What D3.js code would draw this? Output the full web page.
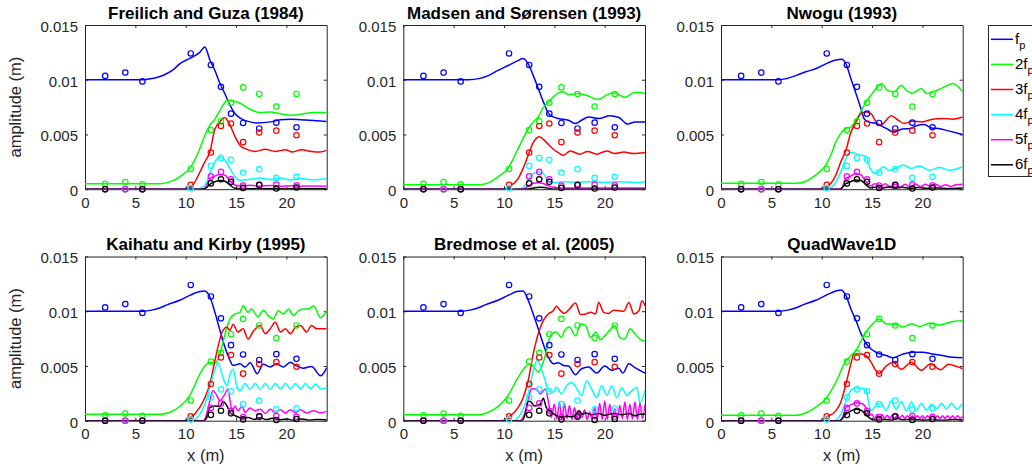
<!DOCTYPE html>
<html>
<head>
<meta charset="utf-8">
<script src="https://cdn.jsdelivr.net/npm/d3@7"></script>
<style>
  body { margin: 0; background: #fff; }
  svg { display: block; font-family: "Liberation Sans", Arial, Helvetica, sans-serif; }
  .axis path, .axis line { stroke: #262626; }
  .axis text { fill: #262626; font-size: 15px; font-family: "Liberation Sans", Arial, sans-serif; }
</style>
</head>
<body>
<svg id="fig" width="1032" height="471"></svg>
<script>
// amplitudes are in mm, x in m

// measured harmonic amplitudes at the gauges
const gaugeX = [2, 4, 5.7, 10.5, 12.5, 13.5, 14.5, 15.7, 17.3, 19, 21];
const meas1 = [10.35, 10.65, 9.85, 12.4, 11.35, 9.35, 6.9, 6.05, 5.55, 6.08, 5.65];
const meas2 = [0.5, 0.65, 0.45, 1.85, 5.4, 6.2, 7.9, 9.3, 8.7, 7.55, 8.7];
const meas3 = [0, 0, 0, 0.4, 3.35, 5.78, 6.0, 4.3, 5.17, 5.35, 4.93];
const meas4 = [0, 0, 0, 0.1, 2.13, 2.86, 2.68, 1.52, 1.83, 1.03, 1.13];
const meas5 = [0, 0, 0, null, 1.17, 1.58, 0.9, 0.33, 0.43, 0.43, 0.36];
const meas6 = [0, null, 0, null, 0.53, 0.91, 0.67, 0.12, 0.37, 0.06, 0.15];

// Freilich and Guza (1984)
const fg1 = [[0,10],[5.7,10],[6.5,10.08],[7.3,10.25],[8.1,10.55],[8.8,10.95],[9.4,11.45],[10.4,11.95],[11.4,12.5],[11.9,13.0],[12.4,11.8],[12.9,10.85],[13.4,9.65],[13.9,8.7],[14.4,7.67],[14.9,6.9],[15.4,6.5],[16.4,6.15],[17.1,6.05],[18.4,6.15],[19.4,6.35],[20.4,6.4],[21.4,6.35],[22.7,6.27],[24,6.18]];
const fg2 = [[0,0.5],[7.5,0.5],[8.1,0.6],[8.8,0.8],[9.4,1.13],[10.4,1.9],[10.9,2.65],[11.4,3.7],[11.9,4.9],[12.4,5.85],[12.9,6.4],[13.4,7.2],[13.9,7.95],[14.1,8.15],[14.7,8.05],[15.4,7.85],[16.4,7.3],[17.4,7.0],[18.4,7.05],[19.4,6.9],[20.4,6.75],[21.4,6.85],[22.7,7.0],[24,7.0]];
const fg3 = [[0,0],[9.5,0],[10.4,0.18],[10.9,0.65],[11.4,1.55],[11.9,2.5],[12.4,3.4],[12.9,5.5],[13.4,6.15],[13.85,6.55],[14.4,5.85],[14.9,4.8],[15.4,4.0],[15.9,3.7],[16.9,3.45],[17.9,3.65],[18.9,3.45],[19.9,3.6],[20.6,3.4],[21.5,3.6],[22.5,3.45],[23.3,3.4],[24,3.55]];
const fg4 = [[0,0],[11.0,0],[11.4,0.06],[11.9,0.37],[12.4,1.43],[12.9,2.5],[13.4,2.95],[13.9,2.65],[14.4,1.9],[14.9,1.13],[15.4,0.82],[16.4,0.9],[17.4,1.03],[18.4,0.88],[19.4,1.03],[20.4,0.85],[21.4,0.97],[22.7,0.85],[24,0.97]];
const fg5 = [[0,0],[11.5,0],[11.9,0.1],[12.4,0.95],[12.9,1.2],[13.4,1.35],[13.9,1.28],[14.4,0.75],[14.9,0.38],[15.4,0.3],[16.4,0.35],[17.4,0.28],[18.4,0.33],[19.4,0.28],[20.4,0.32],[21.4,0.27],[22.7,0.3],[24,0.28]];
const fg6 = [[0,0],[11.6,0],[12.0,0.1],[12.4,0.45],[12.9,0.67],[13.4,0.8],[13.9,0.73],[14.4,0.38],[14.9,0.08],[15.4,0.05],[24,0.05]];

// Madsen and Sorensen (1993)
const ms1 = [[0,10],[6.5,10],[7.5,10.1],[8.5,10.4],[9.4,10.85],[10.4,11.3],[11.4,11.75],[11.9,11.95],[12.4,11.45],[12.9,10.4],[13.4,9.2],[13.9,8.0],[14.4,6.95],[14.9,6.6],[15.4,6.45],[16.4,6.3],[17.1,6.0],[17.7,6.3],[18.4,6.6],[19.4,6.45],[20.5,6.7],[21.4,6.55],[22.3,5.95],[23.0,6.15],[24,6.15]];
const ms2 = [[0,0.4],[7.5,0.4],[8.5,0.6],[9.4,1.13],[10.4,1.9],[11.4,3.7],[12.4,5.5],[12.9,6.15],[13.4,6.6],[13.9,7.45],[14.4,7.95],[14.9,8.45],[15.4,8.8],[15.9,8.9],[16.4,8.65],[17.4,8.75],[18.4,8.5],[19.3,8.2],[20.4,8.7],[21.0,8.8],[22.0,8.4],[23.0,8.85],[24,8.75]];
const ms3 = [[0,0],[10.0,0],[10.4,0.18],[11.4,0.97],[11.9,1.9],[12.4,3.1],[12.9,4.25],[13.5,4.8],[13.9,4.55],[14.4,4.1],[14.9,3.65],[15.4,3.35],[15.9,3.1],[16.6,3.5],[17.5,3.2],[18.3,3.45],[19.2,3.2],[20.2,3.5],[21.0,3.25],[21.9,3.4],[22.8,3.25],[24,3.35]];
const ms4 = [[0,0],[11.4,0],[11.9,0.15],[12.4,0.82],[12.9,1.43],[13.4,1.58],[13.9,1.43],[14.4,0.75],[14.9,0.6],[16,0.68],[17.2,0.62],[18.5,0.68],[20,0.62],[21.5,0.68],[23,0.62],[24,0.66]];
const ms5 = [[0,0],[11.9,0],[12.4,0.3],[12.9,0.55],[13.4,0.6],[13.9,0.52],[14.4,0.3],[14.9,0.18],[15.5,0.12],[24,0.12]];
const ms6 = [[0,0],[12.2,0],[12.9,0.1],[13.5,0.18],[14.0,0.15],[14.6,0.05],[15.2,0],[24,0]];

// Nwogu (1993)
const nw1 = [[0,10],[5.7,10],[6.5,10.1],[7.5,10.4],[8.5,10.75],[9.4,11.0],[10.4,11.45],[11.4,11.8],[12.0,11.87],[12.4,11.45],[12.9,10.1],[13.4,8.75],[13.9,7.35],[14.2,6.45],[14.6,6.15],[15.4,6.0],[16.4,5.55],[17.2,5.2],[18.0,5.5],[18.8,5.55],[19.4,5.8],[20.2,5.9],[20.9,5.6],[21.6,5.55],[22.5,5.35],[24,5.0]];
const nw2 = [[0,0.55],[7.5,0.55],[8.5,0.75],[9.4,1.28],[10.4,2.2],[10.9,3.1],[11.4,4.3],[11.9,5.1],[12.4,5.55],[12.9,5.7],[13.4,6.3],[13.9,7.1],[14.4,7.95],[14.9,8.6],[15.4,9.2],[15.95,9.65],[16.5,9.05],[17.2,8.9],[17.9,9.5],[18.4,9.05],[19.0,8.75],[19.9,9.2],[20.4,8.75],[21.2,8.95],[22.2,9.35],[23.0,9.65],[24,8.9]];
const nw3 = [[0,0],[9.8,0],[10.4,0.24],[10.9,0.52],[11.4,1.28],[11.9,2.5],[12.4,3.55],[12.9,5.2],[13.4,6.15],[13.9,6.9],[14.4,7.05],[14.9,6.9],[15.4,6.15],[15.9,5.85],[16.4,6.3],[16.9,6.7],[17.6,6.3],[18.2,6.0],[19.0,6.2],[20.0,6.15],[21.0,6.4],[22.0,6.45],[23.0,6.4],[24,6.6]];
const nw4 = [[0,0],[10.7,0],[10.9,0.1],[11.4,0.65],[11.9,1.58],[12.4,2.8],[12.9,3.35],[13.4,3.25],[13.9,3.1],[14.4,3.0],[14.8,1.9],[15.4,1.43],[16.1,2.05],[16.7,1.73],[17.4,1.9],[18.1,2.2],[18.9,1.9],[19.7,2.13],[20.7,1.73],[21.7,1.98],[22.7,1.73],[24,2.05]];
const nw5 = [[0,0],[11.9,0],[12.4,0.95],[12.9,1.2],[13.4,1.43],[13.9,1.3],[14.4,0.67],[14.8,0.3],[15.3,0.5],[15.8,0.2],[16.3,0.5],[16.8,0.25],[17.3,0.45],[17.8,0.2],[18.3,0.45],[18.8,0.2],[19.3,0.45],[19.8,0.25],[20.3,0.45],[20.8,0.25],[21.3,0.45],[21.8,0.25],[22.3,0.4],[22.8,0.25],[23.3,0.4],[24,0.45]];
const nw6 = [[0,0],[11.8,0],[12.4,0.5],[12.9,0.7],[13.4,0.85],[13.9,0.8],[14.4,0.4],[14.8,0.12],[15.4,0.2],[16.0,0.1],[16.6,0.2],[17.3,0.1],[18,0.18],[18.8,0.08],[19.6,0.15],[20.5,0.08],[21.5,0.12],[22.5,0.06],[24,0.1]];

// Kaihatu and Kirby (1995)
const kk1 = [[0,10],[5.8,10],[6.6,10.1],[7.4,10.3],[8.2,10.6],[9.4,11.0],[10.4,11.45],[11.4,11.8],[11.9,11.85],[12.4,11.3],[12.9,9.9],[13.4,8.25],[13.9,6.7],[14.4,5.5],[14.7,5.05],[15.4,5.2],[15.9,4.9],[16.4,5.3],[17.1,4.3],[17.7,5.15],[18.4,4.9],[19.0,5.2],[19.7,4.9],[20.4,5.35],[20.9,5.05],[21.7,4.8],[22.5,4.95],[23.4,4.1],[24,4.85]];
const kk2 = [[0,0.6],[7.5,0.6],[8.5,0.8],[9.4,1.3],[10.4,2.3],[11.4,4.25],[11.9,5.0],[12.4,5.35],[12.9,5.25],[13.4,6.1],[13.9,7.9],[14.4,9.3],[14.9,9.75],[15.4,9.9],[15.7,10.5],[16.2,9.9],[16.5,10.2],[17.2,9.5],[17.7,10.1],[18.2,9.6],[18.7,9.3],[19.2,10.05],[19.7,9.75],[20.2,10.2],[20.7,9.6],[21.2,10.05],[21.7,10.2],[22.2,10.2],[22.7,10.5],[23.4,9.4],[24,10.05]];
const kk3 = [[0,0],[9.8,0],[10.4,0.24],[11.4,1.22],[11.9,2.1],[12.4,3.35],[12.9,5.5],[13.4,7.45],[13.7,8.25],[14.1,8.55],[14.4,8.25],[14.7,8.8],[15.2,8.1],[15.7,8.4],[16.2,7.45],[16.7,8.15],[17.4,8.7],[17.9,7.95],[18.4,8.4],[18.9,9.0],[19.4,8.1],[19.9,8.4],[20.4,7.95],[20.9,8.55],[21.4,8.7],[22.0,8.1],[22.5,8.7],[23.0,8.4],[24,8.4]];
const kk4 = [[0,0],[10.7,0],[10.9,0.1],[11.4,0.6],[11.9,1.5],[12.4,3.05],[12.9,4.7],[13.2,5.3],[13.7,3.95],[14.1,3.2],[14.4,4.25],[14.7,4.7],[15.1,3.05],[15.4,2.75],[15.9,3.4],[16.4,2.85],[16.9,3.4],[17.4,2.85],[17.9,3.4],[18.4,2.85],[18.9,3.4],[19.4,2.9],[19.9,3.4],[20.4,2.9],[20.9,3.4],[21.4,2.9],[21.9,3.4],[22.4,2.9],[22.9,3.35],[23.4,2.9],[24,3.0]];
const kk5 = [[0,0],[11.7,0],[11.9,0.15],[12.4,1.8],[12.7,2.75],[13.0,2.45],[13.4,1.85],[13.9,2.45],[14.2,2.9],[14.4,1.85],[14.6,0.9],[14.9,1.35],[15.2,0.9],[15.6,1.35],[15.9,0.75],[16.4,1.15],[16.9,0.9],[17.4,1.05],[17.9,0.65],[18.4,1.05],[18.9,0.75],[19.4,1.0],[19.9,0.7],[20.4,1.0],[20.9,0.75],[21.4,1.0],[22.0,0.7],[22.7,0.9],[23.4,0.72],[24,0.85]];
const kk6 = [[0,0],[11.8,0],[12.1,0.3],[12.4,1.2],[12.9,1.35],[13.4,1.3],[13.7,1.75],[14.1,1.35],[14.4,0.75],[14.7,0.55],[15.1,0.38],[15.6,0.22],[16.2,0.3],[16.8,0.12],[17.4,0.28],[18.0,0.1],[18.6,0.22],[19.3,0.08],[20,0.15],[20.7,0.05],[21.5,0.15],[22.3,0.05],[23.1,0.12],[24,0.08]];

// Bredmose et al. (2005)
const br1 = [[0,10],[5.8,10],[6.6,10.1],[7.4,10.3],[8.2,10.6],[9.4,11.0],[10.4,11.45],[11.4,11.82],[11.9,11.85],[12.4,11.0],[12.9,9.75],[13.4,8.4],[13.9,7.0],[14.4,5.8],[14.9,5.2],[15.4,5.3],[15.9,5.05],[16.4,5.0],[17.1,4.2],[17.7,4.75],[18.4,4.9],[19.2,4.35],[20.0,5.0],[20.7,4.6],[21.4,4.8],[21.8,4.35],[22.4,5.2],[23.0,4.85],[24,4.35]];
const br2 = [[0,0.55],[7.5,0.55],[8.5,0.8],[9.4,1.28],[10.4,2.3],[11.4,3.95],[12.1,4.9],[12.6,5.2],[13.1,4.75],[13.4,4.45],[13.7,4.9],[14.1,5.95],[14.4,7.15],[14.7,7.9],[15.2,8.1],[15.7,7.6],[16.0,8.2],[16.5,8.55],[17.1,7.75],[17.6,8.85],[18.1,8.7],[18.6,7.6],[19.1,8.1],[19.6,7.4],[20.0,7.75],[20.5,8.25],[21.0,8.7],[21.5,7.6],[22.0,7.45],[22.5,8.4],[23.0,7.95],[23.5,7.45],[24,7.25]];
const br3 = [[0,0],[9.8,0],[10.4,0.3],[11.4,1.2],[11.9,2.1],[12.4,3.65],[12.9,6.1],[13.4,7.95],[13.9,9.15],[14.4,9.75],[14.9,10.05],[15.2,10.45],[15.6,10.05],[16.0,9.8],[16.5,10.2],[17.1,10.75],[17.6,9.7],[18.1,9.75],[18.6,9.9],[19.1,9.75],[19.4,10.8],[19.9,9.9],[20.4,9.8],[20.9,10.1],[21.4,10.05],[21.9,10.0],[22.4,10.8],[22.9,9.75],[23.4,10.05],[23.7,10.95],[24,10.5]];
const br4 = [[0,0],[11.0,0],[11.4,0.3],[11.9,1.05],[12.4,2.45],[12.9,4.55],[13.3,5.55],[13.7,4.75],[14.1,3.65],[14.4,2.75],[14.9,2.6],[15.2,3.05],[15.7,2.45],[16.2,3.2],[16.7,3.5],[17.2,3.0],[17.7,2.3],[18.2,3.65],[18.7,2.9],[19.2,2.1],[19.7,3.2],[20.2,2.3],[20.7,3.2],[21.2,2.1],[21.7,3.0],[22.2,2.3],[22.7,2.75],[23.2,3.05],[23.5,1.6],[24,2.75]];
const br5 = [[0,0],[11.6,0],[11.9,0.3],[12.4,1.8],[12.7,2.9],[13.2,2.9],[13.6,2.45],[14.1,2.9],[14.4,1.8],[14.7,0.3],[15.0,1.5],[15.25,0.15],[15.5,1.7],[15.75,0.1],[16.0,1.6],[16.25,0.2],[16.5,1.4],[16.75,0.1],[17.0,1.2],[17.25,0.2],[17.5,0.9],[17.75,0.3],[18.0,1.0],[18.25,0.1],[18.5,0.8],[18.75,0.2],[19.0,1.2],[19.25,0.1],[19.5,1.6],[19.75,0.1],[20.0,1.8],[20.25,0.1],[20.5,1.5],[20.75,0.15],[21.0,1.1],[21.25,0.1],[21.5,1.4],[21.75,0.2],[22.0,1.7],[22.25,0.1],[22.5,1.5],[22.75,0.15],[23.0,1.7],[23.25,0.1],[23.5,1.6],[23.75,0.2],[24,1.5]];
const br6 = [[0,0],[11.8,0],[12.1,0.6],[12.4,1.8],[12.7,1.7],[13.0,1.35],[13.6,1.5],[13.9,2.05],[14.2,1.2],[14.6,0.9],[14.9,0.65],[15.2,0.45],[15.7,0.3],[16.2,0.4],[16.7,0.35],[17.1,0.5],[17.4,0.9],[17.8,0.6],[18.1,0.7],[18.7,0.55],[19.4,0.65],[20.0,0.5],[20.5,0.6],[20.9,0.65],[21.7,0.55],[22.4,0.65],[23.0,0.45],[23.5,0.6],[24,0.6]];

// QuadWave1D
const qw1 = [[0,10],[5.8,10],[6.6,10.1],[7.4,10.3],[8.2,10.6],[9.4,11.0],[10.4,11.45],[11.4,11.85],[11.9,11.95],[12.4,11.45],[12.9,10.2],[13.4,9.15],[13.9,7.95],[14.4,7.05],[14.9,6.55],[15.4,6.25],[16.4,5.95],[17.1,5.75],[18.1,6.1],[19.0,6.25],[20.0,6.25],[21.0,6.1],[22.0,5.95],[23.0,5.8],[24,5.75]];
const qw2 = [[0,0.5],[7.5,0.5],[8.5,0.75],[9.4,1.22],[10.4,2.0],[11.4,3.5],[12.4,5.45],[12.9,5.95],[13.4,6.4],[13.9,7.3],[14.4,8.1],[14.9,8.7],[15.4,9.15],[15.7,9.3],[16.4,8.85],[17.4,8.8],[18.1,8.55],[18.9,8.85],[19.7,8.6],[20.7,8.9],[21.7,8.75],[22.7,9.0],[24,9.15]];
const qw3 = [[0,0],[9.8,0],[10.4,0.3],[11.4,0.9],[11.9,1.7],[12.4,3.35],[12.9,5.2],[13.2,6.1],[13.9,6.1],[14.4,5.95],[14.9,5.35],[15.4,4.55],[15.7,4.3],[16.4,5.0],[17.1,5.35],[17.9,4.7],[18.9,5.35],[19.9,4.6],[20.8,5.2],[21.8,4.65],[22.6,5.15],[23.4,4.95],[24,4.75]];
const qw4 = [[0,0],[11.2,0],[11.9,0.6],[12.4,1.8],[12.9,2.75],[13.4,3.0],[13.9,2.95],[14.4,2.8],[14.7,1.5],[14.9,0.9],[15.4,1.4],[15.9,1.6],[16.4,0.95],[16.9,1.8],[17.4,1.05],[17.9,1.75],[18.4,0.9],[18.9,1.7],[19.4,0.95],[19.9,1.6],[20.4,0.95],[20.9,1.5],[21.4,1.05],[21.9,1.6],[22.4,1.05],[22.9,1.6],[23.4,1.05],[24,1.6]];
const qw5 = [[0,0],[11.7,0],[12.0,0.2],[12.4,1.2],[12.9,1.45],[13.4,1.65],[13.9,1.6],[14.4,1.2],[14.7,0.45],[15.0,0.6],[15.25,0.2],[15.5,0.55],[15.75,0.2],[16.0,0.55],[16.25,0.2],[16.5,0.5],[16.75,0.2],[17.0,0.5],[17.25,0.2],[17.5,0.5],[17.75,0.2],[18.0,0.5],[18.25,0.2],[18.5,0.45],[18.75,0.2],[19.0,0.45],[19.25,0.2],[19.5,0.45],[19.75,0.2],[20.0,0.45],[20.25,0.2],[20.5,0.45],[20.75,0.2],[21.0,0.45],[21.25,0.2],[21.5,0.45],[21.75,0.2],[22.0,0.45],[22.25,0.2],[22.5,0.45],[22.75,0.2],[23.0,0.45],[23.25,0.2],[23.5,0.45],[23.75,0.2],[24,0.4]];
const qw6 = [[0,0],[11.8,0],[12.4,0.6],[12.9,0.9],[13.4,1.05],[13.9,0.95],[14.4,0.55],[14.9,0.15],[15.5,0.05],[16.2,0.12],[17.0,0.05],[17.4,0.25],[18.0,0.08],[19,0.12],[20,0.05],[21,0.1],[22,0.05],[23,0.1],[24,0.06]];

const titles = ["Freilich and Guza (1984)", "Madsen and Sørensen (1993)", "Nwogu (1993)",
                "Kaihatu and Kirby (1995)", "Bredmose et al. (2005)", "QuadWave1D"];
const modelCurves = [
  [fg1, fg2, fg3, fg4, fg5, fg6],
  [ms1, ms2, ms3, ms4, ms5, ms6],
  [nw1, nw2, nw3, nw4, nw5, nw6],
  [kk1, kk2, kk3, kk4, kk5, kk6],
  [br1, br2, br3, br4, br5, br6],
  [qw1, qw2, qw3, qw4, qw5, qw6]
];
const measured = [meas1, meas2, meas3, meas4, meas5, meas6];
const harmonicLabels = ["f", "2f", "3f", "4f", "5f", "6f"]; // each with subscript p
const colors = ["#0000ff", "#00ff00", "#ff0000", "#00ffff", "#ff00ff", "#000000"];
const xTicks = [0, 5, 10, 15, 20];
const yTicks = [0, 0.005, 0.01, 0.015];

const svg = d3.select("#fig");
const panelW = 241.7, panelH = 164.2;
const colLeft = [85, 403.3, 721];
const rowTop = [25, 256.5];

const x = d3.scaleLinear().domain([0, 24]).range([0, panelW]);
const y = d3.scaleLinear().domain([0, 0.015]).range([panelH, 0]);

const line = d3.line()
  .x((d) => x(d[0]))
  .y((d) => y(d[1] / 1000))
  .curve(d3.curveMonotoneX);

titles.forEach((title, i) => {
  const row = Math.floor(i / 3), col = i % 3;
  const g = svg.append("g")
    .attr("transform", `translate(${colLeft[col]},${rowTop[row]})`);

  g.append("clipPath").attr("id", "clip" + i)
    .append("rect").attr("width", panelW).attr("height", panelH);

  // axes, ticks pointing inwards on all four sides
  g.append("g").attr("class", "axis")
    .attr("transform", `translate(0,${panelH})`)
    .call(d3.axisBottom(x).tickValues(xTicks).tickSizeInner(-3).tickSizeOuter(0).tickPadding(8));
  g.append("g").attr("class", "axis")
    .call(d3.axisTop(x).tickValues(xTicks).tickSizeInner(-3).tickSizeOuter(0).tickFormat(""));
  g.append("g").attr("class", "axis")
    .call(d3.axisLeft(y).tickValues(yTicks).tickSizeInner(-3).tickSizeOuter(0).tickPadding(7)
      .tickFormat((d) => (d === 0 ? "0" : String(d))))
    .selectAll("text").attr("dy", "0.42em");
  g.append("g").attr("class", "axis")
    .attr("transform", `translate(${panelW},0)`)
    .call(d3.axisRight(y).tickValues(yTicks).tickSizeInner(-3).tickSizeOuter(0).tickFormat(""));

  const plot = g.append("g").attr("clip-path", `url(#clip${i})`);
  modelCurves[i].forEach((curve, k) => {
    plot.append("path")
      .datum(curve)
      .attr("fill", "none")
      .attr("stroke", colors[k])
      .attr("stroke-width", 1.5)
      .attr("d", line);
  });

  measured.forEach((vals, k) => {
    g.selectAll(null)
      .data(gaugeX.map((gx, j) => [gx, vals[j]]).filter((d) => d[1] !== null))
      .enter()
      .append("circle")
      .attr("cx", (d) => x(d[0]))
      .attr("cy", (d) => y(d[1] / 1000))
      .attr("r", 2.7)
      .attr("fill", "none")
      .attr("stroke", colors[k])
      .attr("stroke-width", 1.2);
  });

  g.append("text")
    .attr("x", panelW / 2)
    .attr("y", -6.5)
    .attr("text-anchor", "middle")
    .attr("font-weight", "bold")
    .attr("font-size", 17)
    .attr("fill", "#000")
    .text(title);

  if (col === 0) {
    g.append("text")
      .attr("transform", `translate(-64,${panelH / 2}) rotate(-90)`)
      .attr("text-anchor", "middle")
      .attr("font-size", 16.5)
      .attr("fill", "#262626")
      .text("amplitude (m)");
  }
  if (row === 1) {
    g.append("text")
      .attr("x", panelW / 2)
      .attr("y", panelH + 40)
      .attr("text-anchor", "middle")
      .attr("font-size", 16.5)
      .attr("fill", "#262626")
      .text("x (m)");
  }
});

// legend (runs off the right edge, as in the original)
const legend = svg.append("g");
legend.append("rect")
  .attr("x", 988.5).attr("y", 25.5)
  .attr("width", 80).attr("height", 151)
  .attr("fill", "#fff").attr("stroke", "#262626").attr("stroke-width", 1);

harmonicLabels.forEach((lab, k) => {
  const ly = 39.3 + k * 25.1;
  legend.append("line")
    .attr("x1", 991).attr("x2", 1013)
    .attr("y1", ly).attr("y2", ly)
    .attr("stroke", colors[k]).attr("stroke-width", 1.5);
  const t = legend.append("text")
    .attr("x", 1015).attr("y", ly + 4.5)
    .attr("font-size", 15).attr("fill", "#000");
  t.append("tspan").text(lab);
  t.append("tspan").attr("dy", 5).attr("font-size", 11).text("p");
});
</script>
</body>
</html>
